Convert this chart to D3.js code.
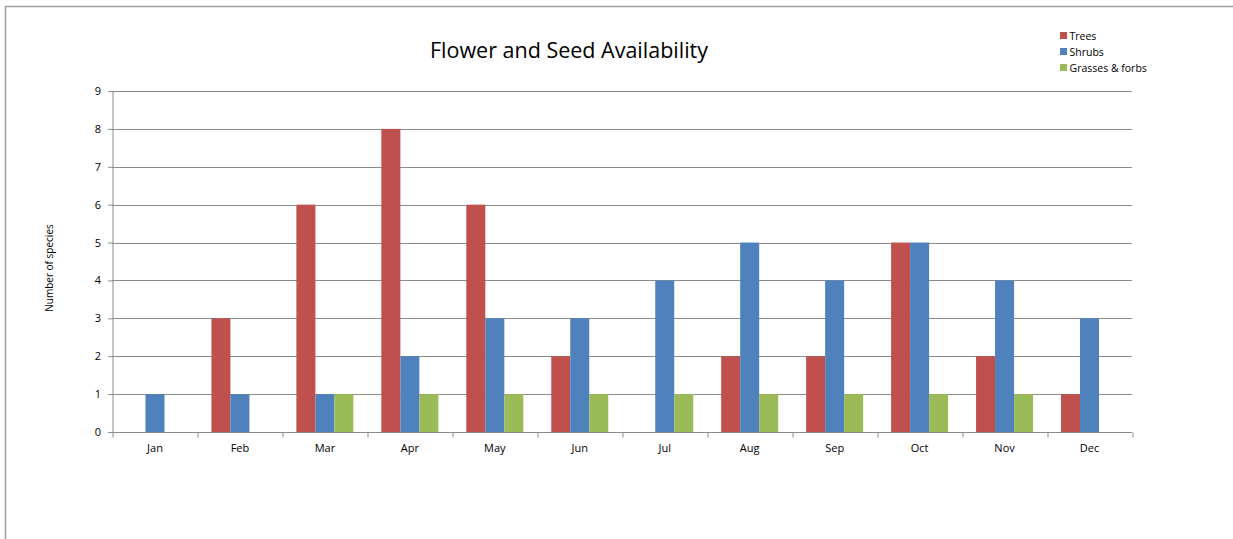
<!DOCTYPE html>
<html>
<head>
<meta charset="utf-8">
<script src="https://cdn.jsdelivr.net/npm/d3@7"></script>
<style>
  body { margin: 0; background: #fff; overflow: hidden; }
  text { font-family: "Open Sans", sans-serif; fill: #000; }
</style>
</head>
<body>
<script>
var months = ["Jan","Feb","Mar","Apr","May","Jun","Jul","Aug","Sep","Oct","Nov","Dec"];
var seriesNames = ["Trees","Shrubs","Grasses & forbs"];
var trees   = [0,3,6,8,6,2,0,2,2,5,2,1];
var shrubs  = [1,1,1,2,3,3,4,5,4,5,4,3];
var grasses = [0,0,1,1,1,1,1,1,1,1,1,0];
var yTicks  = [0,1,2,3,4,5,6,7,8,9];
var colors  = ["#c0504d","#4f81bd","#9bbb59"];

var margin = {top: 91, right: 101, bottom: 107, left: 112.5},
    W = 1233, H = 539,
    width = W - margin.left - margin.right,
    height = H - margin.top - margin.bottom;

var svg = d3.select("body").append("svg")
    .attr("width", W).attr("height", H)
    .style("display", "block");

// outer chart border
svg.append("path")
    .attr("d", "M5.5," + (H + 2) + "V6.5H" + (W + 2))
    .attr("fill", "none").attr("stroke", "#a0a0a0").attr("stroke-width", 1.5);

var g = svg.append("g")
    .attr("transform", "translate(" + margin.left + "," + margin.top + ")");

var x = d3.scaleBand().domain(months).range([0, width]);
var y = d3.scaleLinear().domain([0, 9]).range([height, 0]);

var barW = 19;
var x1 = d3.scaleBand().domain(seriesNames).range([0, barW * 3]);

// gridlines
g.selectAll(".grid").data(yTicks.slice(1)).enter().append("line")
    .attr("x1", 0).attr("x2", width)
    .attr("y1", function(d) { return Math.round(y(d)) + 0.5; })
    .attr("y2", function(d) { return Math.round(y(d)) + 0.5; })
    .attr("stroke", "#8c8c8c").attr("stroke-width", 1);

var rows = months.map(function(m, i) {
  return { key: m, values: [trees[i], shrubs[i], grasses[i]] };
});

var groups = g.selectAll(".grp").data(rows).enter().append("g")
    .attr("transform", function(d) {
      return "translate(" + (x(d.key) + (x.bandwidth() - barW * 3) / 2) + ",0)";
    });

groups.selectAll("rect")
    .data(function(d) { return d.values.map(function(v, j) { return {name: seriesNames[j], value: v, j: j}; }); })
    .enter().append("rect")
    .attr("x", function(d) { return x1(d.name); })
    .attr("width", x1.bandwidth())
    .attr("y", function(d) { return y(d.value); })
    .attr("height", function(d) { return height - y(d.value); })
    .attr("fill", function(d) { return colors[d.j]; });

// y axis
var yAxis = g.append("g")
    .attr("transform", "translate(0.5,0)")
    .call(d3.axisLeft(y).tickValues(yTicks).tickSize(5).tickPadding(7).tickFormat(d3.format("d")));
yAxis.select(".domain").attr("stroke", "#8c8c8c").attr("d", "M0," + height + "V0");
yAxis.selectAll(".tick line").attr("stroke", "#8c8c8c");
yAxis.selectAll(".tick text").style("font-size", "11px").style("font-family", "Open Sans, sans-serif");

// x axis
var xAxis = g.append("g")
    .attr("transform", "translate(0," + (height + 0.5) + ")")
    .call(d3.axisBottom(x).tickSize(0).tickPadding(12));
xAxis.select(".domain").attr("stroke", "#8c8c8c").attr("d", "M0,0H" + width);
xAxis.selectAll(".tick text").style("font-size", "11px").style("font-family", "Open Sans, sans-serif");
// category boundary ticks
xAxis.selectAll(".bnd").data(d3.range(months.length + 1)).enter().append("line")
    .attr("x1", function(i) { return Math.round(i * x.step()) + 0.5; })
    .attr("x2", function(i) { return Math.round(i * x.step()) + 0.5; })
    .attr("y1", 0).attr("y2", 5)
    .attr("stroke", "#8c8c8c");

// title
svg.append("text")
    .attr("x", 569).attr("y", 58)
    .attr("text-anchor", "middle")
    .style("font-size", "21.5px")
    .text("Flower and Seed Availability");

// y label
svg.append("text")
    .attr("transform", "translate(53,268) rotate(-90)")
    .attr("text-anchor", "middle")
    .style("font-size", "10px")
    .text("Number of species");

// legend
var leg = svg.selectAll(".leg").data(seriesNames).enter().append("g")
    .attr("transform", function(d, i) { return "translate(1060," + (32 + i * 16) + ")"; });
leg.append("rect").attr("width", 7).attr("height", 7)
    .attr("fill", function(d, i) { return colors[i]; });
leg.append("text").attr("x", 9.5).attr("y", 7.5)
    .style("font-size", "10.5px")
    .text(function(d) { return d; });
</script>
</body>
</html>
